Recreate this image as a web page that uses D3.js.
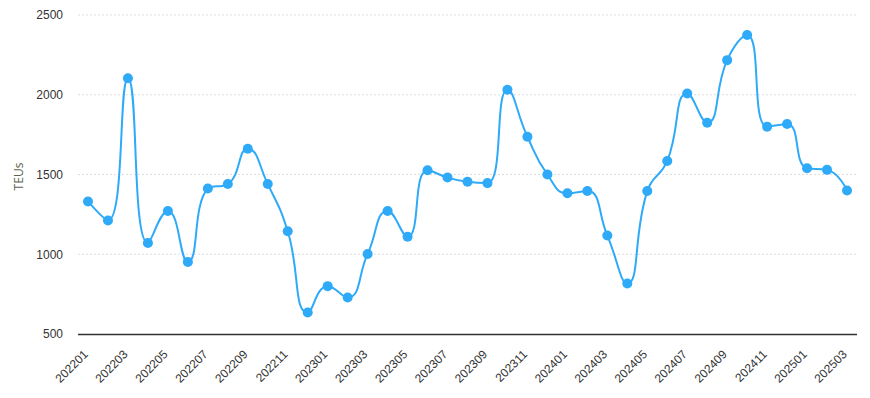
<!DOCTYPE html>
<html>
<head>
<meta charset="utf-8">
<script src="https://cdn.jsdelivr.net/npm/d3@7"></script>
<style>
  body { margin: 0; background: #fff; }
  svg { display: block; font-family: "Open Sans", "Noto Sans", sans-serif; }
  .grid line { stroke: #ddd; stroke-dasharray: 2,2; }
  .tick text { fill: #333; font-size: 12px; }
</style>
</head>
<body>
<svg id="chart"></svg>
<script>
// months shown on the x axis
const months = [
  '202201', '202202', '202203', '202204', '202205', '202206', '202207', '202208', '202209', '202210', '202211', '202212',
  '202301', '202302', '202303', '202304', '202305', '202306', '202307', '202308', '202309', '202310', '202311', '202312',
  '202401', '202402', '202403', '202404', '202405', '202406', '202407', '202408', '202409', '202410', '202411', '202412',
  '202501', '202502', '202503'
];

// TEUs per month
const teus = [
  1331, 1212, 2104, 1071, 1271, 952, 1412, 1440, 1662, 1440, 1144, 635,
  800, 729, 1002, 1271, 1110, 1527, 1481, 1454, 1446, 2031, 1737, 1500,
  1383, 1396, 1117, 817, 1396, 1585, 2008, 1825, 2217, 2375, 1800, 1817,
  1539, 1529, 1400
];

const yTicks = [500, 1000, 1500, 2000, 2500];

const width = 870;
const height = 398;
const margin = {top: 15, right: 13, bottom: 64, left: 78};

const svg = d3.select('#chart')
  .attr('width', width)
  .attr('height', height);

const x = d3.scalePoint()
  .domain(months)
  .range([margin.left, width - margin.right])
  .padding(0.5);

const y = d3.scaleLinear()
  .domain([500, 2500])
  .range([height - margin.bottom, margin.top]);

// grid lines
svg.append('g')
  .attr('class', 'grid')
  .selectAll('line')
  .data(yTicks.slice(1))
  .join('line')
    .attr('x1', margin.left)
    .attr('x2', width - margin.right)
    .attr('y1', d => y(d))
    .attr('y2', d => y(d));

// y axis (labels only)
const yAxis = svg.append('g')
  .attr('transform', `translate(${margin.left},0)`)
  .call(d3.axisLeft(y).tickValues(yTicks).tickFormat(d3.format('d')).tickSize(0).tickPadding(15));
yAxis.select('.domain').remove();

// x axis
const xAxis = svg.append('g')
  .attr('transform', `translate(0,${height - margin.bottom})`)
  .call(d3.axisBottom(x).tickValues(months.filter((d, i) => i % 2 === 0)).tickSize(0).tickSizeOuter(0));
xAxis.select('.domain')
  .attr('d', `M${margin.left},0.5H${width - margin.right}`)
  .attr('stroke', '#333')
  .attr('stroke-width', 1.5);
xAxis.selectAll('.tick text')
  .attr('text-anchor', 'end')
  .attr('dy', null)
  .attr('transform', 'translate(-2,19) rotate(-45)');

// axis title
svg.append('text')
  .attr('transform', `translate(23,${(margin.top + height - margin.bottom) / 2 + 2}) rotate(-90)`)
  .attr('text-anchor', 'middle')
  .attr('fill', '#5e6650')
  .attr('font-size', 12)
  .text('TEUs');

// smooth line, control points limited between neighbours
function smoothPath(pts, smooth) {
  const p = d3.path();
  const n = pts.length;
  const cpIn = [], cpOut = [];
  for (let i = 0; i < n; i++) {
    const [px, py] = pts[i];
    if (i === 0 || i === n - 1) {
      cpIn.push([px, py]);
      cpOut.push([px, py]);
      continue;
    }
    const [ax, ay] = pts[i - 1];
    const [bx, by] = pts[i + 1];
    let vx = bx - ax, vy = by - ay;
    const lenPrev = Math.hypot(px - ax, py - ay);
    const lenNext = Math.hypot(bx - px, by - py);
    const ratio = lenNext / (lenNext + lenPrev);
    let nx = px + vx * smooth * ratio;
    let ny = py + vy * smooth * ratio;
    nx = Math.max(Math.min(nx, Math.max(bx, px)), Math.min(bx, px));
    ny = Math.max(Math.min(ny, Math.max(by, py)), Math.min(by, py));
    vx = nx - px; vy = ny - py;
    let cx = px - vx * lenPrev / lenNext;
    let cy = py - vy * lenPrev / lenNext;
    cx = Math.max(Math.min(cx, Math.max(ax, px)), Math.min(ax, px));
    cy = Math.max(Math.min(cy, Math.max(ay, py)), Math.min(ay, py));
    vx = px - cx; vy = py - cy;
    nx = px + vx * lenNext / lenPrev;
    ny = py + vy * lenNext / lenPrev;
    cpIn.push([cx, cy]);
    cpOut.push([nx, ny]);
  }
  p.moveTo(pts[0][0], pts[0][1]);
  for (let i = 1; i < n; i++) {
    p.bezierCurveTo(cpOut[i - 1][0], cpOut[i - 1][1], cpIn[i][0], cpIn[i][1], pts[i][0], pts[i][1]);
  }
  return p.toString();
}

const points = months.map((m, i) => [x(m), y(teus[i])]);

svg.append('path')
  .attr('d', smoothPath(points, 0.5))
  .attr('fill', 'none')
  .attr('stroke', '#2eaaf8')
  .attr('stroke-width', 2);

svg.append('g')
  .selectAll('circle')
  .data(months)
  .join('circle')
    .attr('cx', d => x(d))
    .attr('cy', (d, i) => y(teus[i]))
    .attr('r', 5)
    .attr('fill', '#2eaaf8');
</script>
</body>
</html>
